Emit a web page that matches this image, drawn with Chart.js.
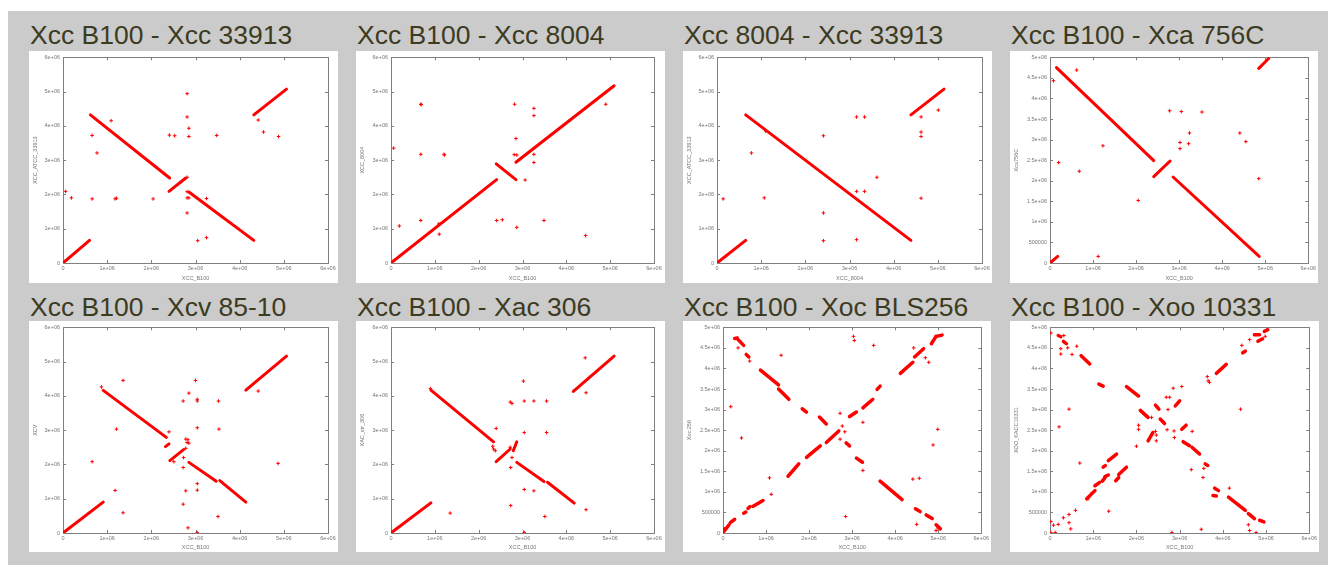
<!DOCTYPE html>
<html>
<head>
<meta charset="utf-8">
<script src="https://cdn.jsdelivr.net/npm/chart.js@4"></script>
<style>
  html, body { margin: 0; padding: 0; background: #fff; }
  body { width: 1328px; height: 565px; position: relative; overflow: hidden; font-family: 'Liberation Sans', Arial, sans-serif; }
  #bg { position: absolute; left: 8px; top: 11px; right: 0; bottom: 0; background: #cbcbcb; }
  .title { position: absolute; font-size: 26.5px; line-height: 1; color: #3d3b1f; white-space: nowrap; }
  .panel { position: absolute; background: #fff; }
  .panel canvas { display: block; }
</style>
</head>
<body>
<div id="bg"></div>
<script>
// titles and axis names
const titles = ['Xcc B100 - Xcc 33913', 'Xcc B100 - Xcc 8004', 'Xcc 8004 - Xcc 33913', 'Xcc B100 - Xca 756C',
                'Xcc B100 - Xcv 85-10', 'Xcc B100 - Xac 306', 'Xcc B100 - Xoc BLS256', 'Xcc B100 - Xoo 10331'];
const xTitles = ['XCC_B100', 'XCC_B100', 'XCC_8004', 'XCC_B100', 'XCC_B100', 'XCC_B100', 'XCC_B100', 'XCC_B100'];
const yTitles = ['XCC_ATCC_33913', 'XCC_8004', 'XCC_ATCC_33913', 'Xca756C', 'XCV', 'XAC_str_306', 'Xoc:256', 'XOO_KACC10331'];

// tick labels (values are stored in millions of bp)
const ticksMillion = ['0', '1e+06', '2e+06', '3e+06', '4e+06', '5e+06', '6e+06'];
const ticksHalf = ['0', '500000', '1e+06', '1.5e+06', '2e+06', '2.5e+06', '3e+06', '3.5e+06', '4e+06', '4.5e+06', '5e+06'];

// segments: [x1, y1, x2, y2]  dots: [x, y]
const p1Lines = [[0, 0, 0.6, 0.66], [0.62, 4.32, 2.415, 2.48], [2.4, 2.09, 2.78, 2.48], [2.85, 2.07, 4.32, 0.66], [4.32, 4.32, 5.06, 5.07]];
const p1Dots = [[0.06, 2.09], [0.19, 1.9], [0.66, 3.72], [0.66, 1.87], [0.77, 3.21], [1.09, 4.15], [1.18, 1.87], [1.21, 1.89],
  [2.04, 1.87], [2.41, 3.73], [2.53, 3.71], [2.81, 4.94], [2.81, 4.26], [2.85, 3.93], [2.85, 3.69], [2.81, 2.5], [2.81, 2.08],
  [2.81, 1.9], [2.85, 1.9], [2.81, 1.46], [3.25, 1.88], [3.05, 0.65], [3.25, 0.74], [3.48, 3.72], [4.42, 4.17], [4.54, 3.82], [4.88, 3.69]];

const p2Lines = [[0, 0, 2.41, 2.43], [2.4, 2.89, 2.85, 2.43], [2.85, 2.94, 5.09, 5.17]];
const p2Dots = [[0.06, 3.35], [0.19, 1.08], [0.68, 4.63], [0.69, 4.62], [0.68, 3.17], [0.68, 1.24], [1.1, 0.84], [1.09, 1.14],
  [1.21, 3.17], [1.22, 3.15], [2.41, 1.24], [2.54, 1.26], [2.82, 4.63], [2.81, 3.16], [2.87, 3.15], [2.85, 3.63], [2.87, 1.04],
  [3.06, 2.42], [3.26, 4.51], [3.26, 4.3], [3.26, 3.17], [3.26, 2.93], [3.49, 1.24], [4.44, 0.8], [4.9, 4.63]];

const p3Lines = [[0, 0, 0.65, 0.66], [0.65, 4.32, 4.39, 0.66], [4.39, 4.32, 5.14, 5.07]];
const p3Dots = [[0.14, 1.87], [0.78, 3.21], [1.07, 1.9], [1.1, 3.85], [2.41, 3.71], [2.41, 1.46], [2.41, 0.65], [3.16, 4.26],
  [3.34, 4.26], [3.16, 2.09], [3.34, 2.09], [3.62, 2.5], [3.16, 0.68], [4.62, 4.26], [4.62, 3.82], [4.62, 3.69], [4.62, 1.89], [5.01, 4.46]];

const p4Lines = [[0, 0, 0.18, 0.16], [0.15, 4.75, 2.41, 2.49], [2.41, 2.1, 2.79, 2.48], [2.86, 2.09, 4.86, 0.16], [4.85, 4.73, 5.08, 4.97]];
const p4Dots = [[0.08, 4.43], [0.2, 2.44], [0.62, 4.69], [0.68, 2.23], [1.23, 2.85], [1.12, 0.16], [2.05, 1.52], [2.78, 3.7],
  [3.02, 2.93], [3.02, 2.78], [3.05, 3.68], [3.22, 2.9], [3.24, 3.16], [3.53, 3.67], [4.41, 3.16], [4.55, 2.95], [4.85, 2.05]];

const p5Lines = [[0, 0, 0.91, 0.9], [0.91, 4.16, 2.34, 2.79], [2.32, 2.52, 2.4, 2.6], [2.42, 2.11, 2.73, 2.43],
  [2.85, 2.06, 3.47, 1.51], [3.55, 1.53, 4.14, 0.9], [4.14, 4.17, 5.06, 5.16]];
const p5Dots = [[0.66, 2.08], [0.87, 4.26], [1.21, 3.03], [1.18, 1.24], [1.36, 4.45], [1.36, 0.59], [2.4, 2.95], [2.51, 2.08],
  [2.72, 3.85], [2.72, 1.91], [2.73, 2.2], [2.72, 0.84], [2.78, 2.74], [2.81, 2.64], [2.83, 2.72], [2.85, 2.62], [2.78, 2.47],
  [2.78, 1.23], [2.83, 0.15], [2.85, 4.08], [3.0, 4.45], [3.04, 3.9], [3.04, 3.85], [3.04, 3.07], [3.04, 1.44], [3.04, 1.25],
  [3.04, 0.01], [3.51, 0.48], [3.52, 3.85], [3.53, 3.03], [4.42, 4.14], [4.87, 2.03]];

const p6Lines = [[0, 0, 0.91, 0.88], [0.91, 4.17, 2.34, 2.66], [2.4, 2.08, 2.72, 2.45], [2.79, 2.4, 2.87, 2.66],
  [2.87, 2.06, 3.49, 1.5], [3.57, 1.48, 4.18, 0.87], [4.16, 4.13, 5.09, 5.16]];
const p6Dots = [[0.9, 4.21], [1.35, 0.58], [2.4, 3.05], [2.32, 2.53], [2.34, 2.45], [2.38, 2.4], [2.72, 3.82], [2.76, 3.78],
  [2.72, 2.5], [2.76, 2.2], [2.73, 1.91], [2.73, 0.8], [3.02, 4.43], [3.04, 3.85], [3.04, 2.93], [3.04, 1.27], [3.04, 0.01],
  [3.26, 3.85], [3.26, 1.23], [3.51, 0.48], [3.55, 3.85], [3.55, 2.93], [4.43, 5.11], [4.45, 4.09], [4.45, 0.68]];

const p7Lines = [[0, 0, 0.04, 0.1], [0.04, 0.06, 0.14, 0.2], [0.17, 0.25, 0.27, 0.33], [0.48, 0.48, 0.53, 0.51], [0.58, 0.6, 0.63, 0.64],
  [0.7, 0.65, 0.93, 0.79], [1.51, 1.38, 1.76, 1.68], [1.94, 1.84, 2.26, 2.12], [2.4, 2.2, 2.69, 2.48], [2.94, 2.83, 3.1, 2.94],
  [3.25, 3.04, 3.48, 3.25], [3.58, 3.49, 3.65, 3.57], [4.12, 3.88, 4.41, 4.15], [4.45, 4.28, 4.66, 4.48], [4.84, 4.6, 4.95, 4.78],
  [4.95, 4.78, 5.09, 4.81],
  [0.27, 4.73, 0.33, 4.74], [0.35, 4.7, 0.48, 4.56], [0.54, 4.34, 0.6, 4.28], [0.87, 3.96, 1.29, 3.6], [1.29, 3.5, 1.53, 3.25],
  [1.84, 3.02, 1.94, 2.94], [2.24, 2.82, 2.4, 2.65], [2.86, 2.19, 2.94, 2.12], [3.1, 1.82, 3.24, 1.72], [3.65, 1.26, 4.16, 0.81],
  [4.47, 0.59, 4.58, 0.52], [4.72, 0.44, 4.86, 0.35], [4.95, 0.2, 5.05, 0.1]];
const p7Dots = [[0.35, 4.5], [0.62, 4.18], [0.18, 3.07], [0.43, 2.31], [1.08, 1.34], [1.12, 0.94], [1.35, 4.32], [2.72, 2.91],
  [2.72, 2.28], [2.77, 2.6], [2.83, 2.46], [2.85, 0.4], [3.03, 4.78], [3.05, 4.68], [3.25, 2.69], [3.25, 1.52], [3.5, 4.56],
  [4.43, 4.5], [4.41, 1.31], [4.5, 0.21], [4.56, 1.33], [4.7, 4.26], [4.78, 4.15], [4.88, 2.14], [4.99, 2.52], [4.95, 0.06], [5.0, 0.12]];

const p8Lines = [[0.85, 0.83, 1.04, 1.03], [1.04, 1.15, 1.15, 1.23], [1.21, 1.26, 1.27, 1.34], [1.27, 1.37, 1.35, 1.41],
  [1.23, 1.6, 1.28, 1.64], [1.35, 1.76, 1.54, 1.92], [1.52, 1.27, 1.59, 1.35], [1.59, 1.42, 1.77, 1.6], [2.27, 2.24, 2.38, 2.44],
  [2.9, 3.09, 3.0, 3.21], [3.05, 2.52, 3.15, 2.62], [3.85, 3.88, 4.08, 4.1], [4.46, 4.38, 4.52, 4.42], [4.73, 4.82, 4.85, 4.82],
  [4.81, 4.66, 4.92, 4.72], [4.96, 4.9, 5.04, 4.94],
  [0.19, 4.8, 0.25, 4.77], [0.31, 4.66, 0.38, 4.6], [0.72, 4.31, 0.92, 4.11], [1.13, 3.62, 1.23, 3.57], [1.77, 3.56, 2.05, 3.33],
  [2.09, 2.98, 2.27, 2.81], [2.44, 3.11, 2.52, 3.01], [2.55, 2.77, 2.65, 2.66], [3.08, 2.22, 3.23, 2.12], [3.29, 2.08, 3.46, 1.92],
  [3.59, 1.68, 3.65, 1.64], [3.77, 0.91, 3.85, 0.9], [3.81, 1.09, 3.9, 1.03], [4.13, 0.87, 4.52, 0.55], [4.59, 0.47, 4.73, 0.35],
  [4.85, 0.31, 4.95, 0.27]];
const p8Dots = [[0.02, 4.86], [0.02, 0.28], [0.08, 0.19], [0.12, 0.01], [0.02, 0.01], [0.19, 0.21], [0.21, 2.58], [0.31, 0.37],
  [0.44, 0.45], [0.44, 0.25], [0.48, 0.1], [0.44, 3.01], [0.25, 4.48], [0.25, 4.35], [0.32, 4.8], [0.41, 4.5], [0.51, 4.34],
  [0.62, 4.54], [0.59, 0.55], [0.69, 1.7], [0.88, 0.83], [0.98, 0.98], [1.36, 0.53], [2.0, 2.11], [2.05, 2.62], [2.05, 2.52],
  [2.35, 2.81], [2.44, 2.47], [2.46, 2.38], [2.46, 2.24], [2.69, 3.3], [2.73, 3.0], [2.71, 2.51], [2.77, 3.3], [2.85, 3.52],
  [2.88, 2.32], [2.87, 2.48], [2.82, 0.01], [3.05, 3.56], [3.29, 2.47], [3.27, 1.54], [3.5, 0.09], [3.56, 1.57], [3.54, 1.35],
  [3.64, 3.8], [3.66, 3.7], [3.69, 3.66], [4.15, 1.09], [4.41, 3.01], [4.44, 4.56], [4.62, 4.7], [4.98, 4.78], [4.59, 0.2],
  [4.62, 0.06], [4.77, 0.01], [4.65, 0.43]];

// panel boxes and plot paddings (pixels)
const layout = [
  { left: 29, top: 51, w: 309, h: 232, l: 34, r: 10, t: 6, b: 20 },
  { left: 356, top: 51, w: 309, h: 232, l: 35, r: 11, t: 6, b: 20 },
  { left: 683, top: 51, w: 309, h: 232, l: 34, r: 10, t: 6, b: 20 },
  { left: 1010, top: 51, w: 308, h: 232, l: 40, r: 8, t: 6, b: 20 },
  { left: 29, top: 321, w: 309, h: 231, l: 34, r: 10, t: 5, b: 19 },
  { left: 356, top: 321, w: 309, h: 231, l: 35, r: 11, t: 5, b: 19 },
  { left: 683, top: 321, w: 308, h: 231, l: 40, r: 9, t: 5, b: 19 },
  { left: 1010, top: 321, w: 309, h: 231, l: 40, r: 9, t: 5, b: 19 }
];
const titleTops = [22, 294];

const panels = [
  { lines: p1Lines, dots: p1Dots, yMax: 6 },
  { lines: p2Lines, dots: p2Dots, yMax: 6 },
  { lines: p3Lines, dots: p3Dots, yMax: 6 },
  { lines: p4Lines, dots: p4Dots, yMax: 5 },
  { lines: p5Lines, dots: p5Dots, yMax: 6 },
  { lines: p6Lines, dots: p6Dots, yMax: 6 },
  { lines: p7Lines, dots: p7Dots, yMax: 5 },
  { lines: p8Lines, dots: p8Dots, yMax: 5 }
];

const RED = '#ff0000';
const AXIS_GREY = '#808080';
const smallFont = { family: "'Liberation Sans', Arial, sans-serif", size: 5.5 };

// gnuplot style frame: border on all four sides with inward ticks
const framePlugin = {
  id: 'frame',
  beforeDatasetsDraw(chart) {
    const { ctx, chartArea: a, scales: { x, y } } = chart;
    ctx.save();
    ctx.strokeStyle = AXIS_GREY;
    ctx.lineWidth = 1;
    ctx.strokeRect(Math.round(a.left) + 0.5, Math.round(a.top) + 0.5, Math.round(a.right - a.left), Math.round(a.bottom - a.top));
    ctx.beginPath();
    x.ticks.forEach(t => {
      const px = Math.round(x.getPixelForValue(t.value)) + 0.5;
      ctx.moveTo(px, a.bottom); ctx.lineTo(px, a.bottom - 3);
      ctx.moveTo(px, a.top); ctx.lineTo(px, a.top + 3);
    });
    y.ticks.forEach(t => {
      const py = Math.round(y.getPixelForValue(t.value)) + 0.5;
      ctx.moveTo(a.left, py); ctx.lineTo(a.left + 3, py);
      ctx.moveTo(a.right, py); ctx.lineTo(a.right - 3, py);
    });
    ctx.stroke();
    ctx.restore();
  }
};

panels.forEach((p, i) => {
  const box = layout[i];

  const title = document.createElement('div');
  title.className = 'title';
  title.style.left = (box.left + 1) + 'px';
  title.style.top = titleTops[i < 4 ? 0 : 1] + 'px';
  title.textContent = titles[i];
  document.body.appendChild(title);

  const wrap = document.createElement('div');
  wrap.className = 'panel';
  wrap.style.left = box.left + 'px';
  wrap.style.top = box.top + 'px';
  wrap.style.width = box.w + 'px';
  wrap.style.height = box.h + 'px';
  const canvas = document.createElement('canvas');
  canvas.width = box.w;
  canvas.height = box.h;
  wrap.appendChild(canvas);
  document.body.appendChild(wrap);

  const yLabels = p.yMax === 6 ? ticksMillion : ticksHalf;
  const thick = i >= 6 ? 3.5 : 3;

  const datasets = p.lines.map(s => ({
    data: [{ x: s[0], y: s[1] }, { x: s[2], y: s[3] }],
    showLine: true,
    borderColor: RED,
    borderWidth: thick,
    borderCapStyle: 'round',
    pointRadius: 0
  }));
  datasets.push({
    data: p.dots.map(d => ({ x: d[0], y: d[1] })),
    showLine: false,
    pointStyle: 'cross',
    pointRadius: 1.8,
    borderWidth: 1,
    borderColor: RED,
    backgroundColor: RED
  });

  new Chart(canvas, {
    type: 'scatter',
    data: { datasets },
    options: {
      responsive: false,
      devicePixelRatio: 1,
      animation: false,
      events: [],
      layout: { padding: { top: box.t, right: box.r, left: 0, bottom: 0 } },
      plugins: { legend: { display: false }, tooltip: { enabled: false } },
      scales: {
        x: {
          type: 'linear',
          min: 0,
          max: 6,
          afterFit: s => { s.height = box.b; },
          grid: { display: false, drawTicks: false },
          border: { display: false },
          ticks: {
            stepSize: 1,
            autoSkip: false,
            maxRotation: 0,
            padding: 2,
            color: '#777',
            font: smallFont,
            callback: (v, idx) => ticksMillion[idx]
          },
          title: { display: true, text: xTitles[i], color: '#777', font: smallFont, padding: { top: 0, bottom: 1 } }
        },
        y: {
          type: 'linear',
          min: 0,
          max: p.yMax,
          afterFit: s => { s.width = box.l; },
          grid: { display: false, drawTicks: false },
          border: { display: false },
          ticks: {
            stepSize: p.yMax === 6 ? 1 : 0.5,
            autoSkip: false,
            padding: 3,
            color: '#777',
            font: smallFont,
            callback: (v, idx) => yLabels[idx]
          },
          title: { display: true, text: yTitles[i], color: '#777', font: smallFont, padding: { top: 3, bottom: 0 } }
        }
      }
    },
    plugins: [framePlugin]
  });
});
</script>
</body>
</html>
